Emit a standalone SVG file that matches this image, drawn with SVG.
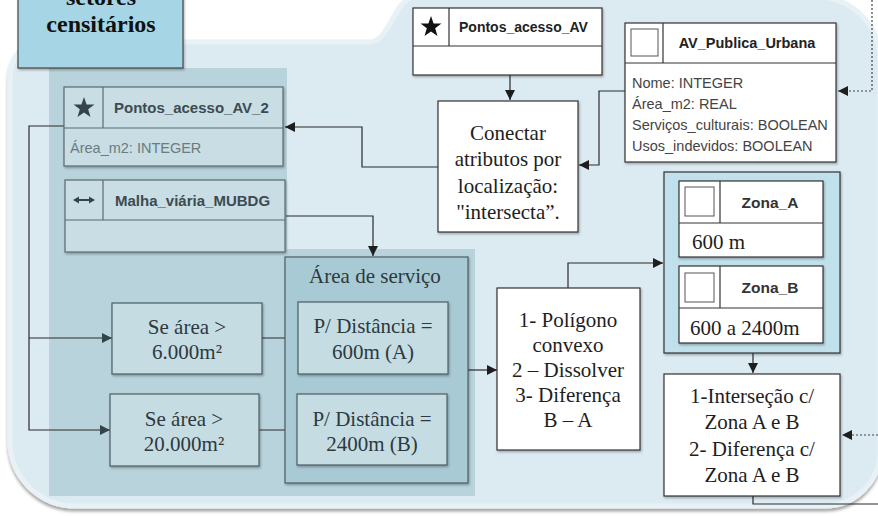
<svg xmlns="http://www.w3.org/2000/svg" width="878" height="516" viewBox="0 0 878 516">
<defs>
<style>
.serif{font-family:"Liberation Serif","Times New Roman",serif;font-size:21px;fill:#1e1e1e;text-anchor:middle}
.lserif{font-family:"Liberation Serif","Times New Roman",serif;font-size:21px;fill:#1e1e1e;text-anchor:start}
.pserif{font-family:"Liberation Serif","Times New Roman",serif;font-size:21px;fill:#2c393e;text-anchor:middle}
.title{font-family:"Liberation Sans",Arial,sans-serif;font-weight:bold;font-size:14.5px;fill:#222}
.ztitle{font-family:"Liberation Sans",Arial,sans-serif;font-weight:bold;font-size:15.5px;fill:#333;text-anchor:middle}
.ptitle{font-family:"Liberation Sans",Arial,sans-serif;font-weight:bold;font-size:15px;fill:#3d4b50}
.attr{font-family:"Liberation Sans",Arial,sans-serif;font-size:14.5px;fill:#444}
.pattr{font-family:"Liberation Sans",Arial,sans-serif;font-size:14.5px;fill:#6b7b80}
.wbox{fill:#ffffff;stroke:#333;stroke-width:1.2}
.pbox{fill:#c8dde4;stroke:#5b6b71;stroke-width:1.2}
.sbox{fill:#c6dce3;stroke:#4d5d63;stroke-width:1.2}
.sep{stroke:#333;stroke-width:1.2}
.psep{stroke:#5b6b71;stroke-width:1.2}
.ico{fill:#fff;stroke:#555;stroke-width:1}
.conn{fill:none;stroke:#2a2a2a;stroke-width:1.2}
.dot{fill:none;stroke:#444;stroke-width:1.2;stroke-dasharray:2 2}
</style>
<marker id="ah" viewBox="0 0 10 10" refX="10" refY="5" markerWidth="11" markerHeight="10" markerUnits="userSpaceOnUse" orient="auto"><path d="M0,0 L10,5 L0,10 z" fill="#1e1e1e"/></marker>
<marker id="ahp" viewBox="0 0 10 10" refX="10" refY="5" markerWidth="11" markerHeight="10" markerUnits="userSpaceOnUse" orient="auto"><path d="M0,0 L10,5 L0,10 z" fill="#34444a"/></marker>
<filter id="sh" x="-10%" y="-10%" width="130%" height="130%"><feDropShadow dx="1" dy="1.5" stdDeviation="1.2" flood-color="#000" flood-opacity="0.3"/></filter>
<filter id="bsh" x="-5%" y="-5%" width="110%" height="110%"><feDropShadow dx="0" dy="3" stdDeviation="1.5" flood-color="#000" flood-opacity="0.35"/></filter>
<path id="star" d="M0,-11 L2.59,-3.56 L10.46,-3.40 L4.18,1.36 L6.47,8.90 L0,4.4 L-6.47,8.90 L-4.18,1.36 L-10.46,-3.40 L-2.59,-3.56 Z"/>
</defs>

<rect x="0" y="0" width="878" height="516" fill="#ffffff"/>

<g id="background">
<path d="M 10 80 Q 10 42 48 42 L 370 42 C 390 42 395 -3 415 -3 L 817 -3 A 63 63 0 0 1 880 60 L 880 451 A 55 55 0 0 1 825 506 L 75 506 A 65 65 0 0 1 10 441 Z" fill="#dcebf1" stroke="#e8f2f6" stroke-width="5" filter="url(#bsh)"/>
<path d="M 49 68 H 287 V 249 H 475 V 496 H 49 Z" fill="#b8d3db"/>
</g>

<g id="setores">
<rect x="18" y="-5" width="165" height="73" fill="#a6d6e6" stroke="#444" stroke-width="1.2" filter="url(#sh)"/>
<text x="101" y="5" font-family="Liberation Serif, Times New Roman, serif" font-weight="bold" font-size="24" fill="#111" text-anchor="middle">setores</text>
<text x="101" y="32" font-family="Liberation Serif, Times New Roman, serif" font-weight="bold" font-size="24" fill="#111" text-anchor="middle">censitários</text>
</g>

<g id="connectors">
<path class="conn" d="M 510 75 V 100" marker-end="url(#ah)"/>
<path class="conn" d="M 625 91 H 599 V 165 H 579" marker-end="url(#ah)"/>
<path class="conn" d="M 438 167 H 362 V 127 H 285" marker-end="url(#ah)"/>
<path class="conn" d="M 64 126 H 29 V 430 H 110" marker-end="url(#ahp)"/>
<path class="conn" d="M 29 338 H 112" marker-end="url(#ahp)"/>
<path class="conn" d="M 286 216 H 373 V 256" marker-end="url(#ah)"/>
<path class="conn" d="M 262 338 H 298" marker-end="url(#ahp)"/>
<path class="conn" d="M 259 430 H 297" marker-end="url(#ahp)"/>
<path class="conn" d="M 468 370 H 497" marker-end="url(#ah)"/>
<path class="conn" d="M 568 288 V 263 H 663" marker-end="url(#ah)"/>
<path class="conn" d="M 753 353 V 373" marker-end="url(#ah)"/>
<path class="conn" d="M 753 496 V 504 H 878"/>
<path class="dot" d="M 872 0 V 91 H 838" marker-end="url(#ah)"/>
<path class="dot" d="M 878 435 H 842" marker-end="url(#ah)"/>
</g>

<g id="pontos_acesso_av">
<rect class="wbox" x="413" y="8" width="189" height="67" filter="url(#sh)"/>
<line class="sep" x1="413" y1="46" x2="602" y2="46"/>
<line class="sep" x1="449" y1="8" x2="449" y2="46"/>
<use href="#star" transform="translate(431,27)" fill="#111"/>
<text class="title" x="459" y="32" style="font-size:14px">Pontos_acesso_AV</text>
</g>

<g id="av_publica_urbana">
<rect class="wbox" x="625" y="23" width="211" height="139" filter="url(#sh)"/>
<line class="sep" x1="625" y1="63" x2="836" y2="63"/>
<line class="sep" x1="663" y1="23" x2="663" y2="63"/>
<rect class="ico" x="631" y="29" width="27" height="27"/>
<text class="title" x="747" y="48" style="text-anchor:middle">AV_Publica_Urbana</text>
<text class="attr" x="632" y="88">Nome: INTEGER</text>
<text class="attr" x="632" y="109">Área_m2: REAL</text>
<text class="attr" x="632" y="130">Serviços_culturais: BOOLEAN</text>
<text class="attr" x="632" y="151">Usos_indevidos: BOOLEAN</text>
</g>

<g id="conectar">
<rect class="wbox" x="438" y="101" width="140" height="131" filter="url(#sh)"/>
<text class="serif" x="508" y="140">Conectar</text>
<text class="serif" x="508" y="166">atributos por</text>
<text class="serif" x="508" y="193">localização:</text>
<text class="serif" x="508" y="219">"intersecta”.</text>
</g>

<g id="pontos_acesso_av_2">
<rect class="pbox" x="64" y="87" width="219" height="79" filter="url(#sh)"/>
<line class="psep" x1="64" y1="128" x2="283" y2="128"/>
<line class="psep" x1="103" y1="87" x2="103" y2="128"/>
<use href="#star" transform="translate(84,108)" fill="#34444a"/>
<text class="ptitle" x="114" y="113">Pontos_acesso_AV_2</text>
<text class="pattr" x="70" y="153">Área_m2: INTEGER</text>
</g>

<g id="malha_viaria">
<rect class="pbox" x="65" y="180" width="220" height="72" filter="url(#sh)"/>
<line class="psep" x1="65" y1="220" x2="285" y2="220"/>
<line class="psep" x1="103" y1="180" x2="103" y2="220"/>
<line x1="78" y1="200" x2="90" y2="200" stroke="#34444a" stroke-width="2"/>
<path d="M73 200 L79 196.5 L79 203.5 Z M95 200 L89 196.5 L89 203.5 Z" fill="#34444a"/>
<text class="ptitle" x="115" y="206">Malha_viária_MUBDG</text>
</g>

<g id="se_area_6000">
<rect class="sbox" x="112" y="303" width="150" height="71" filter="url(#sh)"/>
<text class="pserif" x="187" y="334">Se área &gt;</text>
<text class="pserif" x="187" y="359">6.000m²</text>
</g>

<g id="se_area_20000">
<rect class="sbox" x="110" y="394" width="149" height="72" filter="url(#sh)"/>
<text class="pserif" x="184" y="426">Se área &gt;</text>
<text class="pserif" x="184" y="451">20.000m²</text>
</g>

<g id="area_de_servico">
<rect x="285" y="257" width="183" height="226" fill="#a8cad5" stroke="#4d5d63" stroke-width="1.2" filter="url(#sh)"/>
<text class="pserif" x="375" y="283">Área de serviço</text>
</g>

<g id="distancia_600">
<rect class="sbox" x="298" y="302" width="150" height="72" filter="url(#sh)"/>
<text class="pserif" x="373" y="333">P/ Distância =</text>
<text class="pserif" x="373" y="359">600m (A)</text>
</g>

<g id="distancia_2400">
<rect class="sbox" x="297" y="394" width="150" height="71" filter="url(#sh)"/>
<text class="pserif" x="372" y="426">P/ Distância =</text>
<text class="pserif" x="372" y="451">2400m (B)</text>
</g>

<g id="poligono">
<rect class="wbox" x="497" y="288" width="143" height="162" filter="url(#sh)"/>
<text class="serif" x="568" y="327">1- Polígono</text>
<text class="serif" x="568" y="352">convexo</text>
<text class="serif" x="568" y="377">2 – Dissolver</text>
<text class="serif" x="568" y="402">3- Diferença</text>
<text class="serif" x="568" y="427">B – A</text>
</g>

<g id="zonas">
<rect x="664" y="172" width="176" height="181" fill="#c0e1eb" stroke="#333" stroke-width="1.2" filter="url(#sh)"/>
<g id="zona_a">
<rect class="wbox" x="679" y="181" width="144" height="76" filter="url(#sh)"/>
<line class="sep" x1="679" y1="223" x2="823" y2="223"/>
<line class="sep" x1="720" y1="181" x2="720" y2="223"/>
<rect class="ico" x="685" y="187" width="29" height="29"/>
<text class="ztitle" x="770" y="208">Zona_A</text>
<text class="lserif" x="692" y="249">600 m</text>
</g>
<g id="zona_b">
<rect class="wbox" x="679" y="266" width="144" height="77" filter="url(#sh)"/>
<line class="sep" x1="679" y1="308" x2="823" y2="308"/>
<line class="sep" x1="720" y1="266" x2="720" y2="308"/>
<rect class="ico" x="685" y="273" width="29" height="29"/>
<text class="ztitle" x="770" y="293">Zona_B</text>
<text class="lserif" x="690" y="335">600 a 2400m</text>
</g>
</g>

<g id="intersecao">
<rect class="wbox" x="664" y="374" width="176" height="122" filter="url(#sh)"/>
<text class="serif" x="752" y="403">1-Interseção c/</text>
<text class="serif" x="752" y="429">Zona A e B</text>
<text class="serif" x="752" y="456">2- Diferença c/</text>
<text class="serif" x="752" y="482">Zona A e B</text>
</g>
</svg>
